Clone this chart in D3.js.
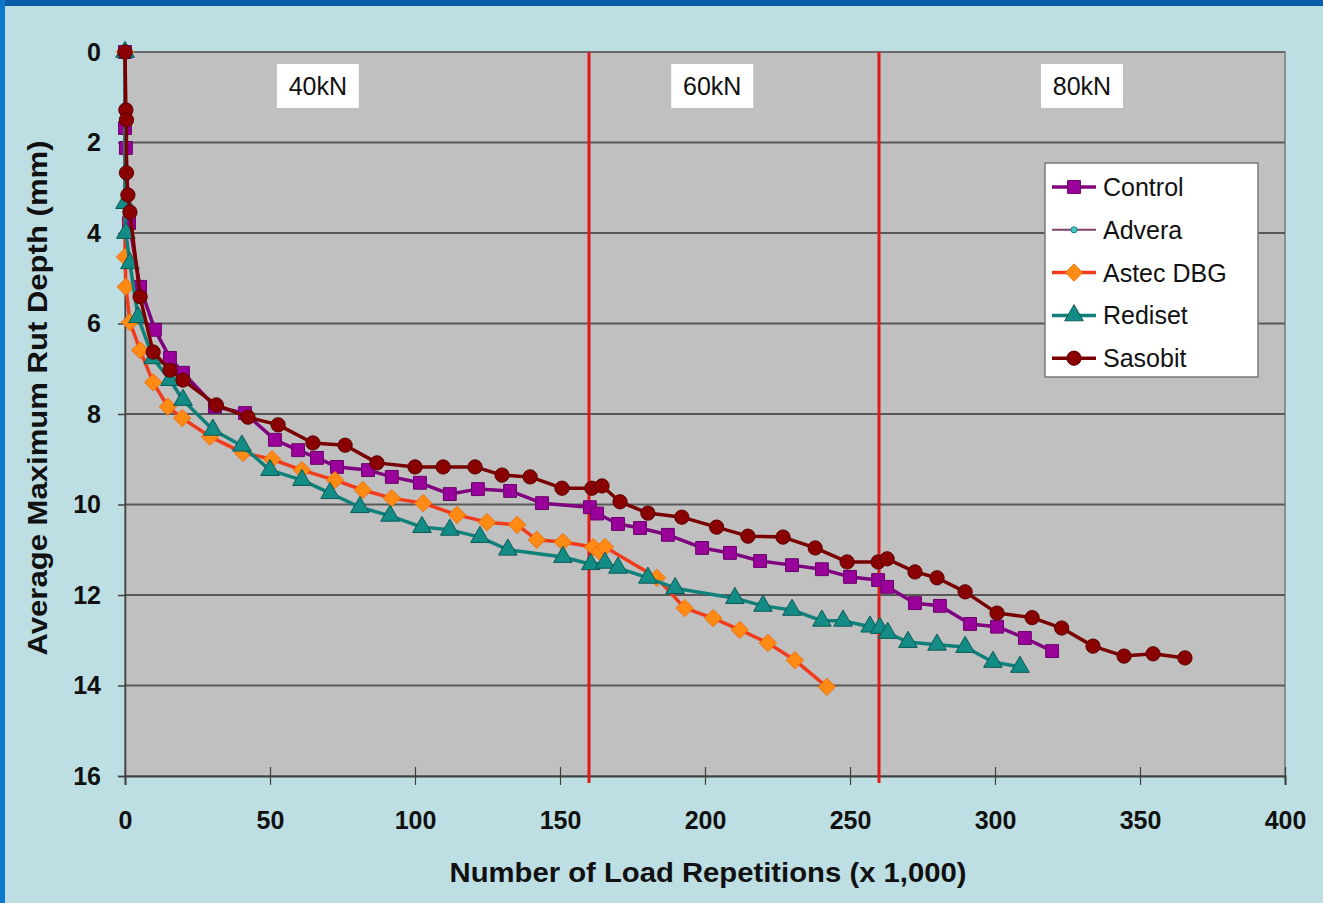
<!DOCTYPE html>
<html>
<head>
<meta charset="utf-8">
<script src="https://cdn.jsdelivr.net/npm/d3@7"></script>
<style>
html,body{margin:0;padding:0;background:#bddfe3;}
svg{display:block;}
</style>
</head>
<body>
<svg id="chart" width="1323" height="903"></svg>
<script>
// ---- data ----
const seriesNames = ["Control", "Advera", "Astec DBG", "Rediset", "Sasobit"];

const controlX = [0,0,0.3,1.4,5.2,10.3,15.5,20,31,41.4,51.7,59.7,66.2,73.1,83.8,92,101.7,112,121.7,132.8,143.8,160.3,162.8,170,177.6,187.2,199,208.6,219,230,240.3,250,259.7,262.8,272.4,281,291.4,300.7,310.3,319.7];
const controlY = [0,1.68,2.12,3.78,5.19,6.14,6.76,7.09,7.84,7.98,8.57,8.8,8.97,9.17,9.24,9.39,9.52,9.77,9.66,9.7,9.97,10.06,10.2,10.43,10.52,10.67,10.96,11.07,11.25,11.34,11.43,11.6,11.67,11.82,12.18,12.24,12.64,12.7,12.95,13.24];

const adveraX = [];
const adveraY = [];

const astecX = [0,0,0.3,1.7,5.2,9.7,14.8,19.7,29.3,40.7,50.7,61,72.4,82,92,102.8,114.5,124.8,135.2,142,151,161.4,163.8,165.5,183.4,193,202.8,212,221.7,231,242];
const astecY = [0,4.53,5.19,5.97,6.59,7.3,7.84,8.09,8.5,8.86,9.0,9.24,9.46,9.68,9.86,9.97,10.23,10.39,10.45,10.78,10.83,10.94,11.05,10.94,11.62,12.29,12.51,12.77,13.06,13.44,14.03];

const redisetX = [0,0,0.3,1.7,4.5,9.7,15.5,20,30.3,40.3,50,61,70.7,81,91.4,102.4,112,122.4,132,151,160.6,165.5,170,180.3,189.7,210.3,220,230,240.3,247.6,256.9,260.3,263,270,280,289.7,299.3,308.6];
const redisetY = [0,3.34,4.0,4.67,5.86,6.77,7.25,7.69,8.35,8.7,9.24,9.46,9.75,10.06,10.25,10.5,10.56,10.72,11.0,11.16,11.32,11.29,11.4,11.62,11.85,12.07,12.24,12.33,12.57,12.57,12.7,12.73,12.84,13.04,13.1,13.15,13.48,13.59];

const sasobitX = [0,0.3,0.5,0.5,1,1.7,5.2,9.7,15.5,20,31.5,42.4,52.8,64.8,75.9,86.9,100,109.7,120.7,130,139.7,150.7,161,164.5,170.7,180.3,192,204,214.8,226.9,238,249,259.7,262.8,272.4,280,289.7,300.7,312.8,323,333.8,344.5,354.5,365.5];
const sasobitY = [0,1.28,1.5,2.67,3.16,3.54,5.41,6.63,7.03,7.25,7.8,8.07,8.24,8.64,8.69,9.08,9.17,9.17,9.17,9.35,9.39,9.64,9.64,9.59,9.94,10.19,10.28,10.5,10.7,10.72,10.96,11.27,11.27,11.2,11.49,11.62,11.93,12.4,12.5,12.73,13.13,13.35,13.3,13.39];

const xTicks = [0,50,100,150,200,250,300,350,400];
const yTicks = [0,2,4,6,8,10,12,14,16];
const loadChanges = [160, 260];
const loadLabels = ["40kN", "60kN", "80kN"];
const loadLabelX = [66.5, 202.5, 330];
const xTitle = "Number of Load Repetitions (x 1,000)";
const yTitle = "Average Maximum Rut Depth (mm)";

// ---- styles ----
const diamond = {draw(ctx, size){ const r = Math.sqrt(size/2); ctx.moveTo(0,-r); ctx.lineTo(r,0); ctx.lineTo(0,r); ctx.lineTo(-r,0); ctx.closePath(); }};
const styles = {
  "Control":   {line:"#800080", fill:"#9a009a", stroke:"#6a006a", shape:d3.symbolSquare, size:165, lw:3.5},
  "Advera":    {line:"#804070", fill:"#40c8c8", stroke:"#208080", shape:d3.symbolCircle, size:30, lw:2},
  "Astec DBG": {line:"#f03c1c", fill:"#ff8a14", stroke:"#f07010", shape:diamond, size:150, lw:3.5},
  "Rediset":   {line:"#10807a", fill:"#148c86", stroke:"#0a5a56", shape:d3.symbolTriangle, size:150, lw:3.5},
  "Sasobit":   {line:"#7a0000", fill:"#8a0000", stroke:"#5a0000", shape:d3.symbolCircle, size:160, lw:3.5}
};

const svg = d3.select("#chart");
const W = 1323, H = 903;
const m = {left:125, right:1285, top:52, bottom:776};

// outer frame
svg.append("rect").attr("x",0).attr("y",0).attr("width",W).attr("height",H).attr("fill","#bddfe3");
svg.append("rect").attr("x",0).attr("y",0).attr("width",W).attr("height",6).attr("fill","#0a5ca6");
svg.append("rect").attr("x",0).attr("y",0).attr("width",5).attr("height",H).attr("fill","#0c78cc");

const x = d3.scaleLinear().domain([0,400]).range([m.left, m.right]);
const y = d3.scaleLinear().domain([0,16]).range([m.top, m.bottom]);

// plot area
svg.append("rect").attr("x",m.left).attr("y",m.top)
  .attr("width",m.right-m.left).attr("height",m.bottom-m.top)
  .attr("fill","#c0c0c0").attr("stroke","#7a7a7a").attr("stroke-width",1.5);

// gridlines
svg.append("g").selectAll("line").data(yTicks.filter(d=>d>0 && d<16)).join("line")
  .attr("x1",m.left).attr("x2",m.right)
  .attr("y1",d=>y(d)).attr("y2",d=>y(d))
  .attr("stroke","#585858").attr("stroke-width",2);
svg.append("line").attr("x1",m.left).attr("x2",m.right).attr("y1",m.top).attr("y2",m.top)
  .attr("stroke","#6a6a6a").attr("stroke-width",2);

// y axis
const yAxis = d3.axisLeft(y).tickValues(yTicks).tickSize(7).tickPadding(17).tickFormat(d3.format("d"));
const gy = svg.append("g").attr("transform",`translate(${m.left},0)`).call(yAxis);
gy.select(".domain").attr("stroke","#404040").attr("stroke-width",1.5);
gy.selectAll(".tick line").attr("stroke","#404040").attr("stroke-width",1.5);
gy.selectAll(".tick text").attr("font-family","'Liberation Sans', Arial, sans-serif")
  .attr("font-size",25).attr("font-weight","bold").attr("fill","#111");

// x axis
const xAxis = d3.axisBottom(x).tickValues(xTicks).tickSize(9).tickPadding(26).tickFormat(d3.format("d"));
const gx = svg.append("g").attr("transform",`translate(0,${m.bottom})`).call(xAxis);
gx.select(".domain").attr("stroke","#404040").attr("stroke-width",2);
gx.selectAll(".tick line").attr("stroke","#404040").attr("stroke-width",1.2).attr("y1",-9);
gx.selectAll(".tick text").attr("font-family","'Liberation Sans', Arial, sans-serif")
  .attr("font-size",25).attr("font-weight","bold").attr("fill","#111");

// load change lines
svg.append("g").selectAll("line").data(loadChanges).join("line")
  .attr("x1",d=>x(d)).attr("x2",d=>x(d)).attr("y1",m.top).attr("y2",m.bottom+7)
  .attr("stroke","#e01818").attr("stroke-width",3);

// load labels
const lg = svg.append("g").selectAll("g").data(loadLabels).join("g")
  .attr("transform",(d,i)=>`translate(${x(loadLabelX[i])},${y(0.75)})`);
lg.append("rect").attr("x",-41).attr("y",-22).attr("width",82).attr("height",44).attr("fill","#ffffff");
lg.append("text").attr("text-anchor","middle").attr("dy","0.36em")
  .attr("font-family","'Liberation Sans', Arial, sans-serif").attr("font-size",25).attr("fill","#111")
  .text(d=>d);

// series
const seriesData = [
  {name:"Control", xs:controlX, ys:controlY},
  {name:"Advera", xs:adveraX, ys:adveraY},
  {name:"Astec DBG", xs:astecX, ys:astecY},
  {name:"Rediset", xs:redisetX, ys:redisetY},
  {name:"Sasobit", xs:sasobitX, ys:sasobitY}
];
const line = d3.line().x(d=>x(d[0])).y(d=>y(d[1]));
seriesData.forEach(s=>{
  const st = styles[s.name];
  const pts = s.xs.map((v,i)=>[v, s.ys[i]]);
  const g = svg.append("g").attr("class","series");
  if (pts.length) {
    g.append("path").datum(pts).attr("d",line).attr("fill","none")
      .attr("stroke",st.line).attr("stroke-width",st.lw).attr("stroke-linejoin","round");
    g.selectAll("path.m").data(pts).join("path").attr("class","m")
      .attr("d",d3.symbol().type(st.shape).size(st.size))
      .attr("transform",d=>`translate(${x(d[0])},${y(d[1])})`)
      .attr("fill",st.fill).attr("stroke",st.stroke).attr("stroke-width",1);
  }
});

// legend
const leg = svg.append("g").attr("transform","translate(1045,163)");
leg.append("rect").attr("x",0).attr("y",0).attr("width",213).attr("height",214)
  .attr("fill","#ffffff").attr("stroke","#7a7a7a").attr("stroke-width",1.5);
const li = leg.selectAll("g").data(seriesNames).join("g")
  .attr("transform",(d,i)=>`translate(0,${24 + i*42.8})`);
li.append("line").attr("x1",7).attr("x2",51).attr("y1",0).attr("y2",0)
  .attr("stroke",d=>styles[d].line).attr("stroke-width",d=>styles[d].lw);
li.append("path").attr("d",d=>d3.symbol().type(styles[d].shape).size(styles[d].size)())
  .attr("transform","translate(29,0)")
  .attr("fill",d=>styles[d].fill).attr("stroke",d=>styles[d].stroke).attr("stroke-width",1);
li.append("text").attr("x",58).attr("dy","0.36em")
  .attr("font-family","'Liberation Sans', Arial, sans-serif").attr("font-size",25).attr("fill","#111")
  .text(d=>d);

// axis titles
svg.append("text").attr("x",708).attr("y",882).attr("text-anchor","middle")
  .attr("font-family","'Liberation Sans', Arial, sans-serif").attr("font-size",27).attr("font-weight","bold")
  .attr("textLength",517).attr("lengthAdjust","spacingAndGlyphs")
  .attr("fill","#111").text(xTitle);
svg.append("text").attr("transform","translate(47,398) rotate(-90)").attr("text-anchor","middle")
  .attr("font-family","'Liberation Sans', Arial, sans-serif").attr("font-size",27).attr("font-weight","bold")
  .attr("textLength",515).attr("lengthAdjust","spacingAndGlyphs")
  .attr("fill","#111").text(yTitle);
</script>
</body>
</html>
